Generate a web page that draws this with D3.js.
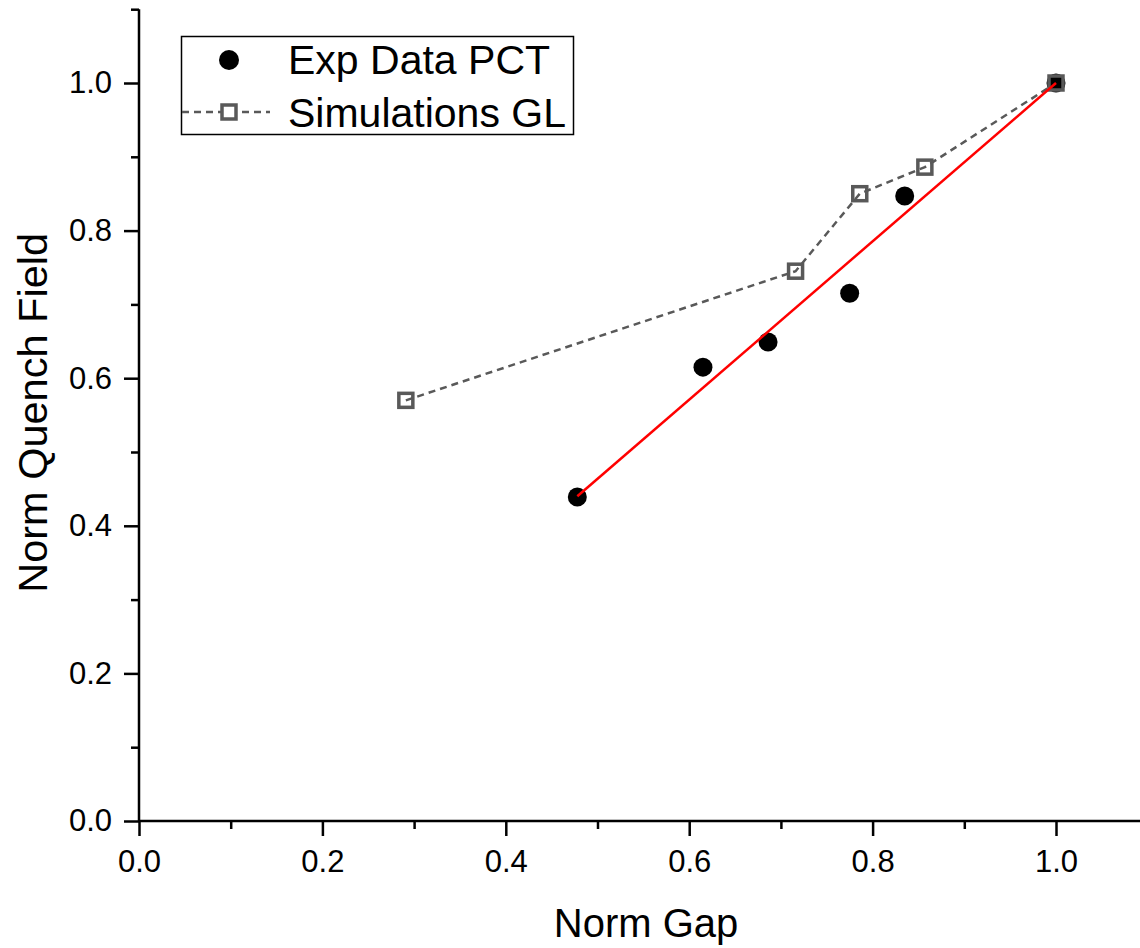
<!DOCTYPE html>
<html><head><meta charset="utf-8">
<script src="https://cdn.jsdelivr.net/npm/d3@7"></script>
<style>html,body{margin:0;padding:0;background:#fff;overflow:hidden}svg{display:block}text{font-family:"Liberation Sans",Arial,sans-serif;fill:#000}</style>
</head><body>
<svg id="c" width="1140" height="948"></svg>
<script>
const expX = [0.478, 0.615, 0.686, 0.775, 0.835, 1.0];
const expY = [0.439, 0.615, 0.649, 0.715, 0.847, 1.0];
const simX = [0.291, 0.716, 0.786, 0.857, 1.0];
const simY = [0.570, 0.745, 0.850, 0.886, 1.0];
const fitX = [0.478, 1.0];
const fitY = [0.440, 1.0];
const majorTicks = [0.0, 0.2, 0.4, 0.6, 0.8, 1.0];
const minorTicks = [0.1, 0.3, 0.5, 0.7, 0.9, 1.1];
const xTitle = "Norm Gap";
const yTitle = "Norm Quench Field";
const seriesNames = ["Exp Data PCT", "Simulations GL"];

const svg = d3.select("#c");
const x = d3.scaleLinear().domain([0, 1.1]).range([139, 139 + 917 * 1.1]);
const y = d3.scaleLinear().domain([0, 1.1]).range([821, 821 - 738 * 1.1]);
const fmt = d3.format(".1f");

// axes
const gx = svg.append("g").attr("transform", "translate(0,821)");
gx.call(d3.axisBottom(x).tickValues(majorTicks).tickFormat(fmt).tickSize(15).tickPadding(14));
const gxm = svg.append("g").attr("transform", "translate(0,821)");
gxm.call(d3.axisBottom(x).tickValues(minorTicks).tickFormat("").tickSize(8));
const gy = svg.append("g").attr("transform", "translate(139,0)");
gy.call(d3.axisLeft(y).tickValues(majorTicks).tickFormat(fmt).tickSize(15).tickPadding(12));
const gym = svg.append("g").attr("transform", "translate(139,0)");
gym.call(d3.axisLeft(y).tickValues(minorTicks).tickFormat("").tickSize(8));
svg.selectAll(".domain").attr("stroke", "#000").attr("stroke-width", 2.5);
svg.selectAll(".tick line").attr("stroke", "#000").attr("stroke-width", 2.5);
svg.selectAll(".tick text").attr("font-size", 31).attr("font-family", "Liberation Sans, Arial, sans-serif").attr("fill", "#000");
gxm.select(".domain").remove();
gym.select(".domain").remove();
gx.select(".domain").attr("d", `M${x(0)},0H${x(1.1)}`);
gy.select(".domain").attr("d", `M0,${y(0)}V${y(1.1)}`);

// titles
svg.append("text").attr("x", x(0.553)).attr("y", 937).attr("text-anchor", "middle")
  .attr("font-size", 40).text(xTitle);
svg.append("text").attr("transform", `translate(47,${y(0.553)}) rotate(-90)`).attr("text-anchor", "middle")
  .attr("font-size", 41.5).text(yTitle);

// simulation dashed line
const simPts = simX.map((d, i) => [d, simY[i]]);
const line = d3.line().x(d => x(d[0])).y(d => y(d[1]));
svg.append("path").attr("d", line(simPts)).attr("fill", "none")
  .attr("stroke", "#595959").attr("stroke-width", 2.5).attr("stroke-dasharray", "7,5");

// exp circles
const expPts = expX.map((d, i) => [d, expY[i]]);
svg.selectAll(".exp").data(expPts).enter().append("circle")
  .attr("cx", d => x(d[0])).attr("cy", d => y(d[1])).attr("r", 9.5).attr("fill", "#000");

// sim squares (hollow)
const s = 14;
svg.selectAll(".sim").data(simPts).enter().append("rect")
  .attr("x", d => x(d[0]) - s / 2).attr("y", d => y(d[1]) - s / 2)
  .attr("width", s).attr("height", s).attr("fill", "none")
  .attr("stroke", "#595959").attr("stroke-width", 3.5);

// fit line
const fitPts = fitX.map((d, i) => [d, fitY[i]]);
svg.append("path").attr("d", line(fitPts)).attr("fill", "none")
  .attr("stroke", "#ff0000").attr("stroke-width", 2.5);

// legend
const lg = svg.append("g");
lg.append("rect").attr("x", 181.5).attr("y", 36.5).attr("width", 392).attr("height", 98)
  .attr("fill", "#fff").attr("stroke", "#000").attr("stroke-width", 1.5);
lg.append("circle").attr("cx", 229).attr("cy", 60).attr("r", 10).attr("fill", "#000");
lg.append("line").attr("x1", 182).attr("x2", 270).attr("y1", 112).attr("y2", 112)
  .attr("stroke", "#595959").attr("stroke-width", 2.5).attr("stroke-dasharray", "7,5");
lg.append("rect").attr("x", 222).attr("y", 105).attr("width", 14).attr("height", 14)
  .attr("fill", "#fff").attr("stroke", "#595959").attr("stroke-width", 3.5);
lg.append("text").attr("x", 288).attr("y", 74).attr("font-size", 41).text(seriesNames[0]);
lg.append("text").attr("x", 288).attr("y", 127).attr("font-size", 41).text(seriesNames[1]);
</script>
</body></html>
